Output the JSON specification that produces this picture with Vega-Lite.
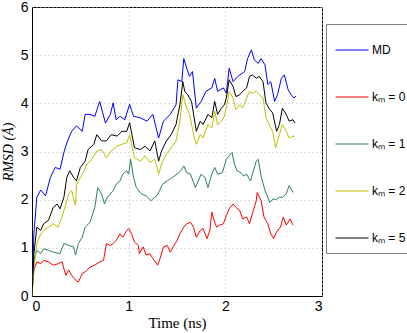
{
  "$schema": "https://vega.github.io/schema/vega-lite/v6.json",
  "autosize": {"type": "none"},
  "padding": {"left": 32, "top": 7, "right": 85, "bottom": 37},
  "width": 290,
  "height": 289,
  "background": "white",
  "config": {
    "view": {"stroke": "#000000", "strokeWidth": 1},
    "font": "Liberation Sans"
  },
  "data": {
    "values": [
      {"s":"MD","t":0,"v":0},{"s":"MD","t":0.02,"v":1.3},{"s":"MD","t":0.05,"v":2.05},{"s":"MD","t":0.09,"v":2.2},{"s":"MD","t":0.14,"v":2.08},{"s":"MD","t":0.19,"v":2.46},{"s":"MD","t":0.24,"v":2.67},{"s":"MD","t":0.29,"v":2.63},{"s":"MD","t":0.33,"v":2.98},{"s":"MD","t":0.36,"v":3.18},{"s":"MD","t":0.41,"v":3.42},{"s":"MD","t":0.46,"v":3.53},{"s":"MD","t":0.52,"v":3.42},{"s":"MD","t":0.55,"v":3.77},{"s":"MD","t":0.6,"v":3.77},{"s":"MD","t":0.65,"v":3.73},{"s":"MD","t":0.7,"v":4.04},{"s":"MD","t":0.76,"v":3.59},{"s":"MD","t":0.81,"v":3.77},{"s":"MD","t":0.84,"v":4.01},{"s":"MD","t":0.87,"v":3.66},{"s":"MD","t":0.91,"v":3.73},{"s":"MD","t":0.96,"v":3.66},{"s":"MD","t":1.01,"v":3.98},{"s":"MD","t":1.05,"v":3.73},{"s":"MD","t":1.12,"v":3.7},{"s":"MD","t":1.19,"v":3.63},{"s":"MD","t":1.25,"v":3.77},{"s":"MD","t":1.31,"v":3.28},{"s":"MD","t":1.36,"v":3.63},{"s":"MD","t":1.43,"v":3.77},{"s":"MD","t":1.49,"v":3.97},{"s":"MD","t":1.51,"v":4.49},{"s":"MD","t":1.55,"v":4.45},{"s":"MD","t":1.57,"v":4.93},{"s":"MD","t":1.6,"v":4.73},{"s":"MD","t":1.63,"v":4.56},{"s":"MD","t":1.66,"v":4.66},{"s":"MD","t":1.7,"v":3.9},{"s":"MD","t":1.75,"v":4.04},{"s":"MD","t":1.8,"v":4.25},{"s":"MD","t":1.86,"v":4.32},{"s":"MD","t":1.89,"v":4.52},{"s":"MD","t":1.92,"v":4.25},{"s":"MD","t":1.98,"v":4.32},{"s":"MD","t":2.01,"v":4.21},{"s":"MD","t":2.04,"v":4.73},{"s":"MD","t":2.08,"v":4.45},{"s":"MD","t":2.13,"v":4.56},{"s":"MD","t":2.2,"v":4.66},{"s":"MD","t":2.23,"v":4.93},{"s":"MD","t":2.27,"v":5.11},{"s":"MD","t":2.3,"v":4.9},{"s":"MD","t":2.34,"v":4.83},{"s":"MD","t":2.37,"v":4.93},{"s":"MD","t":2.41,"v":4.8},{"s":"MD","t":2.44,"v":4.39},{"s":"MD","t":2.47,"v":4.45},{"s":"MD","t":2.51,"v":4.04},{"s":"MD","t":2.54,"v":4.18},{"s":"MD","t":2.58,"v":4.52},{"s":"MD","t":2.61,"v":4.59},{"s":"MD","t":2.65,"v":4.28},{"s":"MD","t":2.68,"v":4.18},{"s":"MD","t":2.71,"v":4.11},{"s":"MD","t":2.73,"v":4.15},

      {"s":"kₘ = 0","t":0,"v":0},{"s":"kₘ = 0","t":0.01,"v":0.33},{"s":"kₘ = 0","t":0.02,"v":0.54},{"s":"kₘ = 0","t":0.05,"v":0.71},{"s":"kₘ = 0","t":0.09,"v":0.67},{"s":"kₘ = 0","t":0.12,"v":0.74},{"s":"kₘ = 0","t":0.17,"v":0.71},{"s":"kₘ = 0","t":0.22,"v":0.64},{"s":"kₘ = 0","t":0.27,"v":0.67},{"s":"kₘ = 0","t":0.31,"v":0.71},{"s":"kₘ = 0","t":0.35,"v":0.43},{"s":"kₘ = 0","t":0.38,"v":0.54},{"s":"kₘ = 0","t":0.41,"v":0.43},{"s":"kₘ = 0","t":0.45,"v":0.33},{"s":"kₘ = 0","t":0.48,"v":0.29},{"s":"kₘ = 0","t":0.52,"v":0.47},{"s":"kₘ = 0","t":0.55,"v":0.5},{"s":"kₘ = 0","t":0.6,"v":0.6},{"s":"kₘ = 0","t":0.65,"v":0.64},{"s":"kₘ = 0","t":0.7,"v":0.71},{"s":"kₘ = 0","t":0.74,"v":0.74},{"s":"kₘ = 0","t":0.77,"v":1.09},{"s":"kₘ = 0","t":0.81,"v":1.05},{"s":"kₘ = 0","t":0.84,"v":1.09},{"s":"kₘ = 0","t":0.87,"v":1.15},{"s":"kₘ = 0","t":0.91,"v":1.29},{"s":"kₘ = 0","t":0.94,"v":1.22},{"s":"kₘ = 0","t":0.98,"v":1.36},{"s":"kₘ = 0","t":1.0,"v":1.4},{"s":"kₘ = 0","t":1.03,"v":1.29},{"s":"kₘ = 0","t":1.06,"v":1.12},{"s":"kₘ = 0","t":1.1,"v":1.05},{"s":"kₘ = 0","t":1.11,"v":0.88},{"s":"kₘ = 0","t":1.15,"v":1.02},{"s":"kₘ = 0","t":1.18,"v":0.85},{"s":"kₘ = 0","t":1.22,"v":0.88},{"s":"kₘ = 0","t":1.25,"v":0.78},{"s":"kₘ = 0","t":1.3,"v":0.64},{"s":"kₘ = 0","t":1.33,"v":0.81},{"s":"kₘ = 0","t":1.36,"v":1.02},{"s":"kₘ = 0","t":1.4,"v":1.05},{"s":"kₘ = 0","t":1.43,"v":0.91},{"s":"kₘ = 0","t":1.46,"v":1.02},{"s":"kₘ = 0","t":1.5,"v":1.15},{"s":"kₘ = 0","t":1.53,"v":1.29},{"s":"kₘ = 0","t":1.57,"v":1.43},{"s":"kₘ = 0","t":1.6,"v":1.5},{"s":"kₘ = 0","t":1.64,"v":1.53},{"s":"kₘ = 0","t":1.67,"v":1.43},{"s":"kₘ = 0","t":1.7,"v":1.22},{"s":"kₘ = 0","t":1.74,"v":1.36},{"s":"kₘ = 0","t":1.77,"v":1.4},{"s":"kₘ = 0","t":1.81,"v":1.19},{"s":"kₘ = 0","t":1.84,"v":1.36},{"s":"kₘ = 0","t":1.86,"v":1.74},{"s":"kₘ = 0","t":1.89,"v":1.53},{"s":"kₘ = 0","t":1.91,"v":1.43},{"s":"kₘ = 0","t":1.94,"v":1.47},{"s":"kₘ = 0","t":1.98,"v":1.5},{"s":"kₘ = 0","t":2.01,"v":1.67},{"s":"kₘ = 0","t":2.04,"v":1.81},{"s":"kₘ = 0","t":2.08,"v":1.91},{"s":"kₘ = 0","t":2.11,"v":1.84},{"s":"kₘ = 0","t":2.15,"v":1.77},{"s":"kₘ = 0","t":2.18,"v":1.6},{"s":"kₘ = 0","t":2.22,"v":1.64},{"s":"kₘ = 0","t":2.25,"v":1.5},{"s":"kₘ = 0","t":2.28,"v":1.71},{"s":"kₘ = 0","t":2.32,"v":1.98},{"s":"kₘ = 0","t":2.33,"v":2.15},{"s":"kₘ = 0","t":2.37,"v":1.98},{"s":"kₘ = 0","t":2.4,"v":1.64},{"s":"kₘ = 0","t":2.44,"v":1.5},{"s":"kₘ = 0","t":2.47,"v":1.29},{"s":"kₘ = 0","t":2.5,"v":1.19},{"s":"kₘ = 0","t":2.53,"v":1.33},{"s":"kₘ = 0","t":2.57,"v":1.43},{"s":"kₘ = 0","t":2.6,"v":1.64},{"s":"kₘ = 0","t":2.63,"v":1.47},{"s":"kₘ = 0","t":2.67,"v":1.6},{"s":"kₘ = 0","t":2.7,"v":1.47},

      {"s":"kₘ = 1","t":0,"v":0},{"s":"kₘ = 1","t":0.02,"v":0.74},{"s":"kₘ = 1","t":0.05,"v":0.95},{"s":"kₘ = 1","t":0.09,"v":0.88},{"s":"kₘ = 1","t":0.12,"v":0.98},{"s":"kₘ = 1","t":0.17,"v":0.95},{"s":"kₘ = 1","t":0.22,"v":0.91},{"s":"kₘ = 1","t":0.29,"v":0.88},{"s":"kₘ = 1","t":0.33,"v":1.09},{"s":"kₘ = 1","t":0.38,"v":1.05},{"s":"kₘ = 1","t":0.43,"v":1.02},{"s":"kₘ = 1","t":0.45,"v":0.85},{"s":"kₘ = 1","t":0.48,"v":1.09},{"s":"kₘ = 1","t":0.52,"v":1.22},{"s":"kₘ = 1","t":0.55,"v":1.43},{"s":"kₘ = 1","t":0.6,"v":1.53},{"s":"kₘ = 1","t":0.65,"v":1.84},{"s":"kₘ = 1","t":0.68,"v":2.25},{"s":"kₘ = 1","t":0.72,"v":2.12},{"s":"kₘ = 1","t":0.75,"v":1.91},{"s":"kₘ = 1","t":0.78,"v":2.05},{"s":"kₘ = 1","t":0.84,"v":2.19},{"s":"kₘ = 1","t":0.87,"v":2.32},{"s":"kₘ = 1","t":0.91,"v":2.39},{"s":"kₘ = 1","t":0.94,"v":2.53},{"s":"kₘ = 1","t":0.98,"v":2.6},{"s":"kₘ = 1","t":1.0,"v":2.53},{"s":"kₘ = 1","t":1.02,"v":2.84},{"s":"kₘ = 1","t":1.05,"v":2.46},{"s":"kₘ = 1","t":1.08,"v":2.25},{"s":"kₘ = 1","t":1.13,"v":2.12},{"s":"kₘ = 1","t":1.18,"v":2.08},{"s":"kₘ = 1","t":1.23,"v":1.98},{"s":"kₘ = 1","t":1.29,"v":2.08},{"s":"kₘ = 1","t":1.32,"v":2.19},{"s":"kₘ = 1","t":1.35,"v":2.32},{"s":"kₘ = 1","t":1.4,"v":2.39},{"s":"kₘ = 1","t":1.45,"v":2.46},{"s":"kₘ = 1","t":1.5,"v":2.53},{"s":"kₘ = 1","t":1.54,"v":2.6},{"s":"kₘ = 1","t":1.57,"v":2.7},{"s":"kₘ = 1","t":1.6,"v":2.56},{"s":"kₘ = 1","t":1.64,"v":2.53},{"s":"kₘ = 1","t":1.69,"v":2.25},{"s":"kₘ = 1","t":1.72,"v":2.39},{"s":"kₘ = 1","t":1.75,"v":2.53},{"s":"kₘ = 1","t":1.79,"v":2.46},{"s":"kₘ = 1","t":1.82,"v":2.25},{"s":"kₘ = 1","t":1.86,"v":2.53},{"s":"kₘ = 1","t":1.89,"v":2.67},{"s":"kₘ = 1","t":1.92,"v":2.53},{"s":"kₘ = 1","t":1.97,"v":2.56},{"s":"kₘ = 1","t":2.01,"v":2.84},{"s":"kₘ = 1","t":2.04,"v":2.91},{"s":"kₘ = 1","t":2.07,"v":2.98},{"s":"kₘ = 1","t":2.09,"v":2.77},{"s":"kₘ = 1","t":2.12,"v":2.6},{"s":"kₘ = 1","t":2.16,"v":2.56},{"s":"kₘ = 1","t":2.19,"v":2.49},{"s":"kₘ = 1","t":2.22,"v":2.53},{"s":"kₘ = 1","t":2.26,"v":2.39},{"s":"kₘ = 1","t":2.29,"v":2.6},{"s":"kₘ = 1","t":2.32,"v":2.8},{"s":"kₘ = 1","t":2.34,"v":2.84},{"s":"kₘ = 1","t":2.37,"v":2.49},{"s":"kₘ = 1","t":2.41,"v":2.19},{"s":"kₘ = 1","t":2.44,"v":2.05},{"s":"kₘ = 1","t":2.46,"v":1.94},{"s":"kₘ = 1","t":2.49,"v":2.01},{"s":"kₘ = 1","t":2.53,"v":2.01},{"s":"kₘ = 1","t":2.56,"v":2.05},{"s":"kₘ = 1","t":2.59,"v":2.05},{"s":"kₘ = 1","t":2.63,"v":2.12},{"s":"kₘ = 1","t":2.66,"v":2.29},{"s":"kₘ = 1","t":2.7,"v":2.15},

      {"s":"kₘ = 2","t":0,"v":0},{"s":"kₘ = 2","t":0.02,"v":0.6},{"s":"kₘ = 2","t":0.05,"v":1.09},{"s":"kₘ = 2","t":0.09,"v":1.29},{"s":"kₘ = 2","t":0.12,"v":1.36},{"s":"kₘ = 2","t":0.17,"v":1.43},{"s":"kₘ = 2","t":0.22,"v":1.5},{"s":"kₘ = 2","t":0.27,"v":1.43},{"s":"kₘ = 2","t":0.31,"v":1.64},{"s":"kₘ = 2","t":0.35,"v":1.91},{"s":"kₘ = 2","t":0.38,"v":2.12},{"s":"kₘ = 2","t":0.41,"v":2.19},{"s":"kₘ = 2","t":0.45,"v":1.88},{"s":"kₘ = 2","t":0.46,"v":2.32},{"s":"kₘ = 2","t":0.5,"v":2.46},{"s":"kₘ = 2","t":0.53,"v":2.56},{"s":"kₘ = 2","t":0.57,"v":2.74},{"s":"kₘ = 2","t":0.62,"v":2.84},{"s":"kₘ = 2","t":0.67,"v":3.01},{"s":"kₘ = 2","t":0.72,"v":3.04},{"s":"kₘ = 2","t":0.77,"v":2.87},{"s":"kₘ = 2","t":0.82,"v":3.01},{"s":"kₘ = 2","t":0.88,"v":3.11},{"s":"kₘ = 2","t":0.93,"v":3.15},{"s":"kₘ = 2","t":0.98,"v":3.18},{"s":"kₘ = 2","t":1.01,"v":3.35},{"s":"kₘ = 2","t":1.06,"v":2.87},{"s":"kₘ = 2","t":1.12,"v":2.8},{"s":"kₘ = 2","t":1.17,"v":2.91},{"s":"kₘ = 2","t":1.22,"v":2.77},{"s":"kₘ = 2","t":1.27,"v":2.84},{"s":"kₘ = 2","t":1.31,"v":2.53},{"s":"kₘ = 2","t":1.34,"v":2.74},{"s":"kₘ = 2","t":1.39,"v":2.94},{"s":"kₘ = 2","t":1.44,"v":3.08},{"s":"kₘ = 2","t":1.49,"v":3.22},{"s":"kₘ = 2","t":1.53,"v":3.63},{"s":"kₘ = 2","t":1.56,"v":4.18},{"s":"kₘ = 2","t":1.6,"v":3.9},{"s":"kₘ = 2","t":1.63,"v":3.77},{"s":"kₘ = 2","t":1.68,"v":3.28},{"s":"kₘ = 2","t":1.7,"v":3.15},{"s":"kₘ = 2","t":1.74,"v":3.35},{"s":"kₘ = 2","t":1.77,"v":3.28},{"s":"kₘ = 2","t":1.82,"v":3.56},{"s":"kₘ = 2","t":1.86,"v":3.49},{"s":"kₘ = 2","t":1.89,"v":3.84},{"s":"kₘ = 2","t":1.92,"v":3.56},{"s":"kₘ = 2","t":1.96,"v":3.63},{"s":"kₘ = 2","t":1.99,"v":3.73},{"s":"kₘ = 2","t":2.01,"v":3.9},{"s":"kₘ = 2","t":2.04,"v":4.25},{"s":"kₘ = 2","t":2.08,"v":4.11},{"s":"kₘ = 2","t":2.11,"v":3.87},{"s":"kₘ = 2","t":2.15,"v":3.97},{"s":"kₘ = 2","t":2.18,"v":3.9},{"s":"kₘ = 2","t":2.22,"v":4.11},{"s":"kₘ = 2","t":2.25,"v":4.25},{"s":"kₘ = 2","t":2.28,"v":4.21},{"s":"kₘ = 2","t":2.32,"v":4.25},{"s":"kₘ = 2","t":2.35,"v":4.18},{"s":"kₘ = 2","t":2.39,"v":4.11},{"s":"kₘ = 2","t":2.42,"v":3.7},{"s":"kₘ = 2","t":2.46,"v":3.53},{"s":"kₘ = 2","t":2.49,"v":3.42},{"s":"kₘ = 2","t":2.52,"v":3.08},{"s":"kₘ = 2","t":2.56,"v":3.35},{"s":"kₘ = 2","t":2.59,"v":3.56},{"s":"kₘ = 2","t":2.63,"v":3.42},{"s":"kₘ = 2","t":2.66,"v":3.28},{"s":"kₘ = 2","t":2.7,"v":3.32},{"s":"kₘ = 2","t":2.72,"v":3.3},

      {"s":"kₘ = 5","t":0,"v":0},{"s":"kₘ = 5","t":0.02,"v":0.88},{"s":"kₘ = 5","t":0.05,"v":1.43},{"s":"kₘ = 5","t":0.09,"v":1.36},{"s":"kₘ = 5","t":0.12,"v":1.5},{"s":"kₘ = 5","t":0.17,"v":1.57},{"s":"kₘ = 5","t":0.22,"v":1.84},{"s":"kₘ = 5","t":0.26,"v":1.91},{"s":"kₘ = 5","t":0.29,"v":1.81},{"s":"kₘ = 5","t":0.33,"v":2.05},{"s":"kₘ = 5","t":0.36,"v":2.46},{"s":"kₘ = 5","t":0.39,"v":2.6},{"s":"kₘ = 5","t":0.43,"v":2.46},{"s":"kₘ = 5","t":0.46,"v":2.39},{"s":"kₘ = 5","t":0.5,"v":2.67},{"s":"kₘ = 5","t":0.55,"v":2.8},{"s":"kₘ = 5","t":0.58,"v":3.04},{"s":"kₘ = 5","t":0.64,"v":3.15},{"s":"kₘ = 5","t":0.67,"v":3.35},{"s":"kₘ = 5","t":0.72,"v":3.22},{"s":"kₘ = 5","t":0.77,"v":3.22},{"s":"kₘ = 5","t":0.82,"v":3.35},{"s":"kₘ = 5","t":0.88,"v":3.32},{"s":"kₘ = 5","t":0.93,"v":3.42},{"s":"kₘ = 5","t":0.98,"v":3.42},{"s":"kₘ = 5","t":1.01,"v":3.6},{"s":"kₘ = 5","t":1.06,"v":3.08},{"s":"kₘ = 5","t":1.12,"v":3.04},{"s":"kₘ = 5","t":1.17,"v":3.11},{"s":"kₘ = 5","t":1.22,"v":3.01},{"s":"kₘ = 5","t":1.27,"v":3.22},{"s":"kₘ = 5","t":1.31,"v":2.8},{"s":"kₘ = 5","t":1.34,"v":3.01},{"s":"kₘ = 5","t":1.39,"v":3.22},{"s":"kₘ = 5","t":1.44,"v":3.35},{"s":"kₘ = 5","t":1.49,"v":3.56},{"s":"kₘ = 5","t":1.53,"v":3.97},{"s":"kₘ = 5","t":1.56,"v":4.45},{"s":"kₘ = 5","t":1.58,"v":4.25},{"s":"kₘ = 5","t":1.61,"v":4.18},{"s":"kₘ = 5","t":1.65,"v":4.04},{"s":"kₘ = 5","t":1.7,"v":3.42},{"s":"kₘ = 5","t":1.74,"v":3.63},{"s":"kₘ = 5","t":1.77,"v":3.56},{"s":"kₘ = 5","t":1.82,"v":3.77},{"s":"kₘ = 5","t":1.86,"v":3.7},{"s":"kₘ = 5","t":1.89,"v":4.04},{"s":"kₘ = 5","t":1.92,"v":3.77},{"s":"kₘ = 5","t":1.96,"v":3.9},{"s":"kₘ = 5","t":1.99,"v":3.97},{"s":"kₘ = 5","t":2.01,"v":4.11},{"s":"kₘ = 5","t":2.04,"v":4.49},{"s":"kₘ = 5","t":2.08,"v":4.35},{"s":"kₘ = 5","t":2.11,"v":4.14},{"s":"kₘ = 5","t":2.15,"v":4.18},{"s":"kₘ = 5","t":2.18,"v":4.25},{"s":"kₘ = 5","t":2.22,"v":4.32},{"s":"kₘ = 5","t":2.25,"v":4.56},{"s":"kₘ = 5","t":2.28,"v":4.59},{"s":"kₘ = 5","t":2.32,"v":4.52},{"s":"kₘ = 5","t":2.35,"v":4.56},{"s":"kₘ = 5","t":2.39,"v":4.45},{"s":"kₘ = 5","t":2.42,"v":4.01},{"s":"kₘ = 5","t":2.46,"v":3.87},{"s":"kₘ = 5","t":2.49,"v":3.8},{"s":"kₘ = 5","t":2.53,"v":3.42},{"s":"kₘ = 5","t":2.56,"v":3.56},{"s":"kₘ = 5","t":2.59,"v":3.9},{"s":"kₘ = 5","t":2.63,"v":3.77},{"s":"kₘ = 5","t":2.66,"v":3.63},{"s":"kₘ = 5","t":2.7,"v":3.66},{"s":"kₘ = 5","t":2.72,"v":3.59}
    ]
  },
  "mark": {"type": "line", "strokeWidth": 1, "clip": true},
  "encoding": {
    "x": {
      "field": "t", "type": "quantitative",
      "scale": {"domain": [0, 3], "nice": false, "zero": false},
      "axis": {
        "title": "Time (ns)", "titleFont": "Liberation Serif", "titleFontWeight": "normal", "titleFontSize": 15, "titleColor": "#000", "titlePadding": 2,
        "values": [0, 1, 2, 3], "labelFontSize": 14, "labelColor": "#000", "labelPadding": 3, "labelFont": "Liberation Sans",
        "ticks": false, "domainColor": "#000",
        "grid": true, "gridColor": "#bbbbbb", "gridDash": [1, 3], "gridWidth": 1
      }
    },
    "y": {
      "field": "v", "type": "quantitative",
      "scale": {"domain": [0, 6], "nice": false},
      "axis": {
        "title": "RMSD (Å)", "titleFont": "Liberation Serif", "titleFontStyle": "italic", "titleFontWeight": "normal", "titleFontSize": 14, "titleColor": "#000", "titlePadding": 5,
        "values": [0, 1, 2, 3, 4, 5, 6], "labelFontSize": 14, "labelColor": "#000", "labelPadding": 4, "labelFont": "Liberation Sans",
        "ticks": false, "domainColor": "#000",
        "grid": true, "gridColor": "#bbbbbb", "gridDash": [1, 3], "gridWidth": 1
      }
    },
    "color": {
      "field": "s", "type": "nominal",
      "scale": {
        "domain": ["MD", "kₘ = 0", "kₘ = 1", "kₘ = 2", "kₘ = 5"],
        "range": ["#0000ff", "#ff0000", "#2e8058", "#c0c000", "#000000"]
      },
      "legend": {
        "title": null, "orient": "none", "legendX": 294, "legendY": 17,
        "symbolType": "stroke", "symbolSize": 1089, "symbolStrokeWidth": 1,
        "labelFontSize": 12, "labelFont": "Liberation Sans", "labelColor": "#000", "labelOffset": 3,
        "rowPadding": 24, "padding": 9,
        "strokeColor": "#808080", "fillColor": "#ffffff"
      }
    }
  }
}
